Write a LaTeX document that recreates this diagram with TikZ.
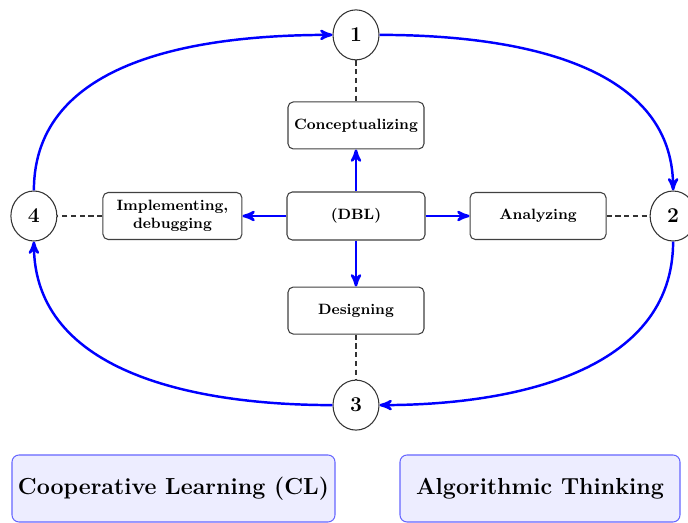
\documentclass[tikz,border=0pt]{standalone}
\usetikzlibrary{positioning, shapes.geometric, arrows}
\tikzset{
	node distance=0.88cm, % gap between the boxes and the circles
	phase/.style={draw=black!75, semithick, rounded corners=3pt, fill=white, minimum width=2.72cm, minimum height=0.94cm, font=\fontsize{8.5}{10}\selectfont\bfseries, align=center}, % the four activity boxes
	stage/.style={draw=black!80, semithick, ellipse, minimum width=0.92cm, minimum height=1cm, font=\large\bfseries, fill=white}, % numbered circles
	cycle/.style={->, >=stealth', blue, line width=1.4pt}, % blue arrows
	link/.style={dash pattern=on 3pt off 2pt, black!80, semithick}, % dashed links
	theme/.style={draw=blue!60, semithick, rounded corners=4pt, fill=blue!7, minimum height=1.34cm, font=\fontsize{13.2}{16}\selectfont\bfseries}, % bottom boxes
}
\begin{document}
\begin{tikzpicture}
			\useasboundingbox (0,0) rectangle (13.76,-10.46);
			\node[phase, minimum width=2.76cm, minimum height=0.96cm] (dbl) at (7.12,-4.32) {(DBL)};
			\node[phase] (con) [above=0.84cm of dbl] {Conceptualizing};
			\node[phase, minimum width=2.78cm] (imp) [left=of dbl] {Implementing,\\debugging};
			\node[phase] (ana) [right=of dbl] {Analyzing};
			\node[phase] (des) [below=0.92cm of dbl] {Designing};

			\node[stage] (s1) [above=0.82cm of con] {1};
			\node[stage] (s2) [right=0.86cm of ana] {2};
			\node[stage] (s3) [below=0.9cm of des] {3};
			\node[stage] (s4) [left=0.9cm of imp] {4};

			\draw[link] (s1) -- (con);
			\draw[link] (ana) -- (s2);
			\draw[link] (des) -- (s3);
			\draw[link] (imp) -- (s4);

			\draw[cycle] (dbl) -- (con);
			\draw[cycle] (dbl) -- (imp);
			\draw[cycle] (dbl) -- (ana);
			\draw[cycle] (dbl) -- (des);

			\draw[cycle] (s4.north) to[out=90, in=180] (s1.west);
			\draw[cycle] (s1.east) to[out=0, in=90] (s2.north);
			\draw[cycle] (s2.south) to[out=-90, in=0] (s3.east);
			\draw[cycle] (s3.west) to[out=180, in=-90] (s4.south);

			\node[theme, minimum width=6.46cm] (cl) at (3.47,-9.77) {Cooperative Learning (CL)};
			\node[theme, minimum width=5.6cm] (at) at (10.8,-9.77) {Algorithmic Thinking};
		\end{tikzpicture}
\end{document}
